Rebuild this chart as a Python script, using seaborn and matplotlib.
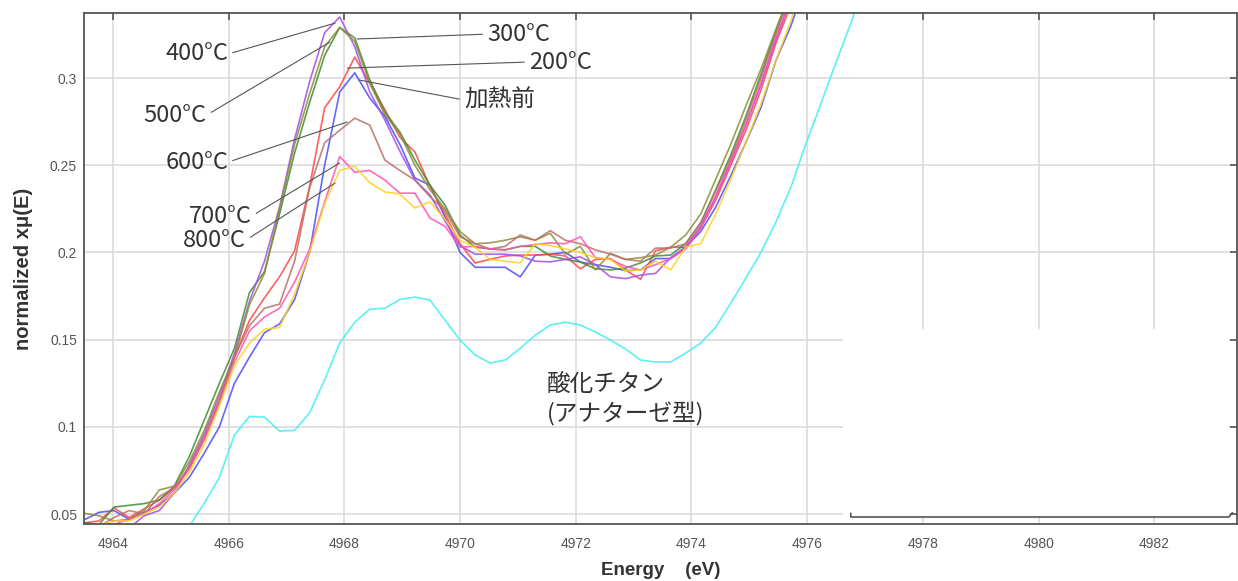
import numpy as np
import pandas as pd
import matplotlib
matplotlib.use('Agg')
import matplotlib.pyplot as plt
import seaborn as sns
from matplotlib.patches import Rectangle

# Energy grid (eV)
energy = [4963.50, 4963.76, 4964.02, 4964.28, 4964.54, 4964.80, 4965.06, 4965.32, 4965.58, 4965.84,
          4966.10, 4966.36, 4966.62, 4966.88, 4967.14, 4967.40, 4967.66, 4967.92, 4968.18, 4968.44,
          4968.70, 4968.96, 4969.22, 4969.48, 4969.74, 4970.00, 4970.26, 4970.52, 4970.78, 4971.04,
          4971.30, 4971.56, 4971.82, 4972.08, 4972.34, 4972.60, 4972.86, 4973.12, 4973.38, 4973.64,
          4973.90, 4974.16, 4974.42, 4974.68, 4974.94, 4975.20, 4975.46, 4975.72, 4975.98, 4976.24,
          4976.50, 4976.76, 4977.02]

# normalized xmu(E) for each sample (energy[0:49])
before = [0.0466, 0.051, 0.052, 0.047, 0.051, 0.055, 0.062, 0.071, 0.085, 0.100,
          0.125, 0.140, 0.154, 0.159, 0.173, 0.200, 0.250, 0.292, 0.303, 0.2885,
          0.278, 0.262, 0.2427, 0.2386, 0.2203, 0.200, 0.1915, 0.1915, 0.1915, 0.186,
          0.1985, 0.199, 0.200, 0.1945, 0.193, 0.1915, 0.1896, 0.190, 0.1965, 0.1965,
          0.203, 0.212, 0.226, 0.244, 0.263, 0.283, 0.310, 0.330, 0.355]
t200 = [0.045, 0.046, 0.0535, 0.048, 0.053, 0.058, 0.065, 0.076, 0.093, 0.115,
        0.140, 0.161, 0.174, 0.186, 0.201, 0.238, 0.283, 0.295, 0.312, 0.297,
        0.282, 0.266, 0.2576, 0.238, 0.222, 0.205, 0.194, 0.196, 0.198, 0.1985,
        0.1985, 0.199, 0.198, 0.1906, 0.196, 0.1965, 0.190, 0.1846, 0.201, 0.203,
        0.203, 0.214, 0.230, 0.250, 0.270, 0.293, 0.320, 0.342, 0.370]
t300 = [0.045, 0.044, 0.054, 0.055, 0.056, 0.058, 0.066, 0.083, 0.104, 0.125,
        0.145, 0.177, 0.189, 0.222, 0.257, 0.286, 0.313, 0.329, 0.323, 0.299,
        0.2805, 0.269, 0.253, 0.2385, 0.2272, 0.210, 0.203, 0.202, 0.2015, 0.2035,
        0.2035, 0.198, 0.196, 0.1945, 0.1906, 0.190, 0.191, 0.194, 0.198, 0.1985,
        0.205, 0.217, 0.236, 0.256, 0.278, 0.302, 0.327, 0.350, 0.375]
t400 = [0.040, 0.040, 0.041, 0.042, 0.049, 0.052, 0.062, 0.078, 0.096, 0.118,
        0.142, 0.172, 0.195, 0.226, 0.265, 0.298, 0.326, 0.335, 0.318, 0.292,
        0.276, 0.258, 0.2415, 0.233, 0.218, 0.204, 0.199, 0.199, 0.199, 0.198,
        0.195, 0.1946, 0.196, 0.1975, 0.193, 0.186, 0.185, 0.187, 0.188, 0.197,
        0.203, 0.215, 0.232, 0.252, 0.273, 0.296, 0.322, 0.345, 0.370]
t500 = [0.0505, 0.049, 0.046, 0.047, 0.052, 0.0638, 0.066, 0.080, 0.098, 0.120,
        0.140, 0.170, 0.188, 0.225, 0.262, 0.291, 0.318, 0.329, 0.321, 0.297,
        0.279, 0.268, 0.250, 0.236, 0.225, 0.212, 0.205, 0.2055, 0.207, 0.209,
        0.207, 0.211, 0.199, 0.2035, 0.190, 0.1995, 0.196, 0.197, 0.1985, 0.203,
        0.210, 0.222, 0.242, 0.262, 0.284, 0.305, 0.328, 0.350, 0.375]
t600 = [0.042, 0.043, 0.048, 0.052, 0.050, 0.060, 0.065, 0.077, 0.094, 0.115,
        0.140, 0.158, 0.168, 0.1704, 0.195, 0.237, 0.263, 0.270, 0.277, 0.273,
        0.253, 0.247, 0.2415, 0.232, 0.224, 0.209, 0.205, 0.202, 0.2035, 0.210,
        0.207, 0.2125, 0.207, 0.205, 0.2015, 0.199, 0.196, 0.195, 0.2025, 0.2025,
        0.205, 0.217, 0.235, 0.254, 0.276, 0.300, 0.325, 0.348, 0.372]
t700 = [0.044, 0.044, 0.044, 0.047, 0.050, 0.056, 0.064, 0.076, 0.093, 0.113,
        0.137, 0.155, 0.163, 0.168, 0.183, 0.202, 0.229, 0.255, 0.246, 0.247,
        0.2415, 0.234, 0.234, 0.2197, 0.215, 0.203, 0.2035, 0.202, 0.2015, 0.2035,
        0.2045, 0.2055, 0.205, 0.209, 0.197, 0.196, 0.192, 0.190, 0.193, 0.1965,
        0.202, 0.214, 0.232, 0.252, 0.273, 0.297, 0.323, 0.345, 0.370]
t800 = [0.044, 0.044, 0.046, 0.046, 0.050, 0.054, 0.062, 0.074, 0.090, 0.112,
        0.135, 0.148, 0.156, 0.157, 0.176, 0.200, 0.228, 0.247, 0.2495, 0.240,
        0.2347, 0.2335, 0.2255, 0.229, 0.219, 0.207, 0.203, 0.196, 0.195, 0.194,
        0.205, 0.204, 0.202, 0.200, 0.197, 0.196, 0.1895, 0.190, 0.195, 0.190,
        0.203, 0.205, 0.222, 0.242, 0.263, 0.285, 0.310, 0.333, 0.360]
# TiO2 anatase reference (energy[7:53])
anatase = [0.043, 0.0563, 0.071, 0.0953, 0.106, 0.1056, 0.0976, 0.098, 0.108, 0.127,
           0.148, 0.160, 0.1675, 0.168, 0.173, 0.1744, 0.1727, 0.1612, 0.1498, 0.1412,
           0.1366, 0.1383, 0.145, 0.1526, 0.1584, 0.160, 0.1584, 0.1544, 0.1498, 0.1446,
           0.1383, 0.1372, 0.1372, 0.1423, 0.148, 0.1572, 0.171, 0.1853, 0.200, 0.2174,
           0.2375, 0.2625, 0.2855, 0.309, 0.332, 0.356]

samples = ['加熱前', '200°C', '300°C', '400°C', '500°C', '600°C', '700°C', '800°C', '酸化チタン']
series = [before, t200, t300, t400, t500, t600, t700, t800, anatase]
colors = ['#4b4bff', '#ff4545', '#3f8c30', '#a54ce8', '#8c8c38', '#b87068',
          '#ff50b4', '#ffd21e', '#40eef2']

xticks = [4964, 4966, 4968, 4970, 4972, 4974, 4976, 4978, 4980, 4982]
yticks = [0.05, 0.1, 0.15, 0.2, 0.25, 0.3]
ytick_labels = ['0.05', '0.1', '0.15', '0.2', '0.25', '0.3']

# label text position, ha, and point on the curve the leader line goes to
ann_text = [(4970.07, 0.2874), (4971.19, 0.3092), (4970.47, 0.3252), (4965.99, 0.3138),
            (4965.62, 0.2788), (4965.99, 0.2518), (4966.40, 0.2209), (4966.30, 0.2071)]
ann_side = ['left', 'left', 'left', 'right', 'right', 'right', 'right', 'right']
ann_point = [(4968.25, 0.2989), (4968.05, 0.3057), (4968.22, 0.3224), (4967.84, 0.3315),
             (4967.75, 0.3206), (4968.05, 0.2748), (4967.92, 0.2513), (4967.84, 0.2398)]

# long-form table for seaborn
frames = []
for name, vals in zip(samples, series):
    e = energy[7:7 + len(vals)] if name == '酸化チタン' else energy[:len(vals)]
    frames.append(pd.DataFrame({'energy': e, 'mu': vals, 'sample': name}))
df = pd.concat(frames, ignore_index=True)

sns.set_theme(style='whitegrid')
plt.rcParams['font.family'] = ['Liberation Sans', 'DejaVu Sans']
jp_font = ['Noto Sans CJK JP', 'DejaVu Sans']

fig, ax = plt.subplots(figsize=(12.38, 5.81), dpi=100)
ax.set_position([84 / 1238, 57 / 581, 1153 / 1238, 511 / 581])

sns.lineplot(data=df, x='energy', y='mu', hue='sample', hue_order=samples,
             palette=dict(zip(samples, colors)), estimator=None, sort=False,
             legend=False, lw=1.2, alpha=0.85, ax=ax)

ax.set_xlim(4963.5, 4983.43)
ax.set_ylim(0.0443, 0.3373)
ax.set_xticks(xticks)
ax.set_yticks(yticks)
ax.set_yticklabels(ytick_labels)
ax.grid(True, color='#dcdcdc', lw=1.2)
ax.set_axisbelow(True)
for s in ax.spines.values():
    s.set_visible(True)
    s.set_color('#555555')
    s.set_linewidth(1.3)
ax.tick_params(direction='in', length=5, width=1.2, color='#555555', top=True, right=True,
               labelsize=10, labelcolor='#555555')
ax.tick_params(axis='x', pad=9)
ax.tick_params(axis='y', pad=5)

ax.set_xlabel('Energy    (eV)', fontsize=13.5, fontweight='bold', color='#333333', labelpad=8)
ax.set_ylabel('normalized xμ(E)', fontsize=14.5, fontweight='bold', color='#333333', labelpad=12)

# leftover white box in the lower right corner
ax.add_patch(Rectangle((0.658, 0.016), 0.335, 0.366, transform=ax.transAxes,
                       facecolor='white', edgecolor='none', zorder=1))
ax.plot([0.665, 0.665, 0.993, 0.996], [0.021, 0.0137, 0.0137, 0.022], transform=ax.transAxes,
        color='#555555', lw=1.2, zorder=3)

for name, (tx, ty), side, pt in zip(samples[:8], ann_text, ann_side, ann_point):
    ax.annotate(name, xy=pt, xytext=(tx, ty), ha=side, va='center', fontsize=17,
                family=jp_font, color='#333333',
                arrowprops=dict(arrowstyle='-', color='#555555', lw=0.8,
                                relpos=(0, 0.5) if side == 'left' else (1, 0.5),
                                shrinkA=1, shrinkB=0))

ax.text(4971.50, 0.1245, '酸化チタン', ha='left', va='center', fontsize=17,
        family=jp_font, color='#333333')
ax.text(4971.50, 0.1073, '(アナターゼ型)', ha='left', va='center', fontsize=17,
        family=jp_font, color='#333333')

fig.savefig('out.png', dpi=100)
